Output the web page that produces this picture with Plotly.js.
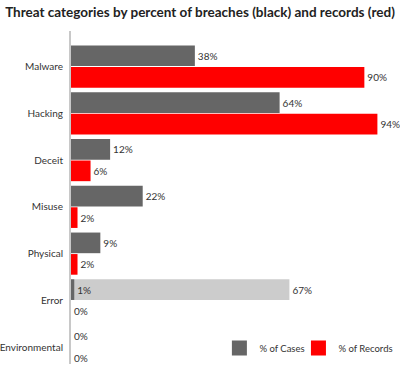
<!DOCTYPE html>
<html>
<head>
<meta charset="utf-8">
<script src="https://cdn.plot.ly/plotly-3.0.1.min.js"></script>
<style>html,body{margin:0;padding:0;background:#fff}#chart{width:400px;height:368px}</style>
</head>
<body>
<div id="chart"></div>
<script>
var categories = ['Malware', 'Hacking', 'Deceit', 'Misuse', 'Physical', 'Error', 'Environmental'];
var casesPct = [38, 64, 12, 22, 9, 1, 0];
var recordsPct = [90, 94, 6, 2, 2, 0, 0];
var errorCategory = ['Error'];
var errorContribPct = [67];
var legendNames = ['% of Cases', '% of Records'];

var FONT = 'Lato, "Open Sans", sans-serif';
var labelFont = {family: FONT, size: 10, color: '#333'};
var legendFont = {family: FONT, size: 9.5, color: '#333'};

var traces = [
  {
    type: 'bar', orientation: 'h', y: errorCategory, x: errorContribPct,
    offsetgroup: 'c', marker: {color: '#cccccc'},
    text: errorContribPct.map(function(v){return v + '%';}),
    textposition: 'outside', textfont: labelFont, cliponaxis: false,
    showlegend: false, hoverinfo: 'skip'
  },
  {
    type: 'bar', orientation: 'h', y: categories, x: casesPct,
    offsetgroup: 'c', marker: {color: '#666666'},
    text: casesPct.map(function(v){return v + '%';}),
    textposition: 'outside', textfont: labelFont, cliponaxis: false,
    showlegend: false
  },
  {
    type: 'bar', orientation: 'h', y: categories, x: recordsPct,
    offsetgroup: 'r', marker: {color: '#ff0000'},
    text: recordsPct.map(function(v){return v + '%';}),
    textposition: 'outside', textfont: labelFont, cliponaxis: false,
    showlegend: false
  },
  {
    type: 'scatter', mode: 'markers', x: [null], y: [null], name: legendNames[0],
    marker: {symbol: 'square', size: 15, color: '#666666'}, showlegend: true, legend: 'legend'
  },
  {
    type: 'scatter', mode: 'markers', x: [null], y: [null], name: legendNames[1],
    marker: {symbol: 'square', size: 15, color: '#ff0000'}, showlegend: true, legend: 'legend2'
  }
];

var layout = {
  width: 400, height: 368,
  margin: {l: 71, r: 5, t: 31, b: 4, autoexpand: false},
  paper_bgcolor: '#fff', plot_bgcolor: '#fff',
  font: {family: FONT, size: 10, color: '#333'},
  title: {
    text: '<b>Threat categories by percent of breaches (black) and records (red)</b>',
    font: {family: FONT, size: 13.5, color: '#222'},
    x: 0.5, xref: 'container', xanchor: 'center',
    y: 1 - 12 / 368, yref: 'container', yanchor: 'middle'
  },
  barmode: 'group', bargap: 0.08, bargroupgap: 0.04,
  xaxis: {range: [0, 99.4], autorange: false, showgrid: false, zeroline: false, showticklabels: false, showline: false, ticks: '', fixedrange: true, automargin: false},
  yaxis: {
    type: 'category', categoryorder: 'array', categoryarray: categories,
    range: [6.36, -0.76], autorange: false,
    showgrid: false, zeroline: false, showline: true, linecolor: '#c8c8c8', linewidth: 2,
    ticks: '', ticklen: 0, ticklabelstandoff: 4, tickfont: {family: FONT, size: 10, color: '#333'}, automargin: false
  },
  showlegend: true,
  legend: {
    orientation: 'h', x: 0.458, xanchor: 'left', y: 0.048, yanchor: 'middle',
    font: legendFont, bgcolor: 'rgba(0,0,0,0)'
  },
  legend2: {
    orientation: 'h', x: 0.702, xanchor: 'left', y: 0.048, yanchor: 'middle',
    font: legendFont, bgcolor: 'rgba(0,0,0,0)'
  }
};

Plotly.newPlot('chart', traces, layout, {displayModeBar: false, staticPlot: true});
</script>
</body>
</html>
